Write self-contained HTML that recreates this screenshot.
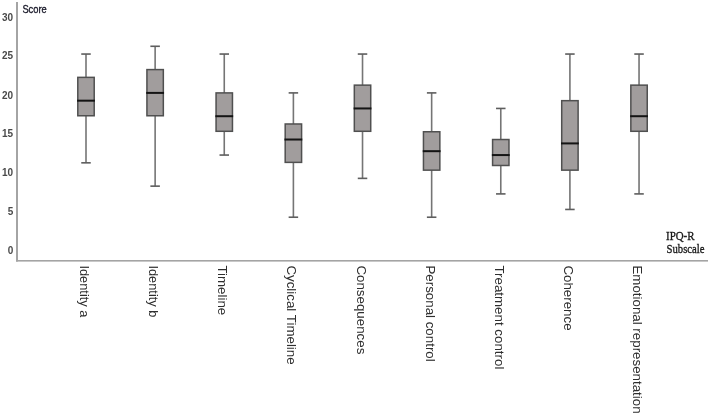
<!DOCTYPE html>
<html><head><meta charset="utf-8"><style>
html,body{margin:0;padding:0;background:#fff;}
body{width:710px;height:415px;overflow:hidden;position:relative;}
svg{position:absolute;left:0;top:0;filter:blur(0.45px);}
.xl{font-family:"Liberation Sans",sans-serif;font-size:13.33px;fill:#2e2e2e;}
.yl{font-family:"Liberation Sans",sans-serif;font-size:10px;font-weight:bold;fill:#4a4a4a;}
.ttl{font-family:"Liberation Sans",sans-serif;font-size:11px;fill:#1a1a2a;stroke:#1a1a2a;stroke-width:0.35px;}
.sub{font-family:"Liberation Serif",serif;font-size:11px;fill:#1a1a1a;stroke:#1a1a1a;stroke-width:0.3px;}
</style></head><body>
<svg width="710" height="415" viewBox="0 0 710 415">
<rect x="16" y="2" width="2" height="259.5" fill="#a4a4a4"/>
<rect x="16" y="260" width="692" height="1.6" fill="#a4a4a4"/>
<rect x="85.20" y="54.05" width="1.6" height="108.78" fill="#757575"/>
<rect x="81.25" y="53.25" width="9.50" height="1.6" fill="#5e5e5e"/>
<rect x="81.25" y="162.03" width="9.50" height="1.6" fill="#5e5e5e"/>
<rect x="77.80" y="77.36" width="16.40" height="38.40" fill="#a19d9d" stroke="#505050" stroke-width="1.5"/>
<rect x="77.10" y="99.67" width="17.80" height="2.0" fill="#141414"/>
<text x="0" y="0" transform="translate(80.00,265.4) rotate(90)" class="xl" textLength="52" lengthAdjust="spacingAndGlyphs">Identity a</text>
<rect x="154.33" y="46.28" width="1.6" height="139.86" fill="#757575"/>
<rect x="150.38" y="45.48" width="9.50" height="1.6" fill="#5e5e5e"/>
<rect x="150.38" y="185.34" width="9.50" height="1.6" fill="#5e5e5e"/>
<rect x="146.93" y="69.59" width="16.40" height="46.17" fill="#a19d9d" stroke="#505050" stroke-width="1.5"/>
<rect x="146.23" y="91.90" width="17.80" height="2.0" fill="#141414"/>
<text x="0" y="0" transform="translate(149.13,265.4) rotate(90)" class="xl" textLength="52" lengthAdjust="spacingAndGlyphs">Identity b</text>
<rect x="223.46" y="54.05" width="1.6" height="101.01" fill="#757575"/>
<rect x="219.51" y="53.25" width="9.50" height="1.6" fill="#5e5e5e"/>
<rect x="219.51" y="154.26" width="9.50" height="1.6" fill="#5e5e5e"/>
<rect x="216.06" y="92.90" width="16.40" height="38.40" fill="#a19d9d" stroke="#505050" stroke-width="1.5"/>
<rect x="215.36" y="115.21" width="17.80" height="2.0" fill="#141414"/>
<text x="0" y="0" transform="translate(218.26,265.4) rotate(90)" class="xl">Timeline</text>
<rect x="292.59" y="92.90" width="1.6" height="124.32" fill="#757575"/>
<rect x="288.64" y="92.10" width="9.50" height="1.6" fill="#5e5e5e"/>
<rect x="288.64" y="216.42" width="9.50" height="1.6" fill="#5e5e5e"/>
<rect x="285.19" y="123.98" width="16.40" height="38.40" fill="#a19d9d" stroke="#505050" stroke-width="1.5"/>
<rect x="284.49" y="138.52" width="17.80" height="2.0" fill="#141414"/>
<text x="0" y="0" transform="translate(287.39,265.4) rotate(90)" class="xl">Cyclical Timeline</text>
<rect x="361.72" y="54.05" width="1.6" height="124.32" fill="#757575"/>
<rect x="357.77" y="53.25" width="9.50" height="1.6" fill="#5e5e5e"/>
<rect x="357.77" y="177.57" width="9.50" height="1.6" fill="#5e5e5e"/>
<rect x="354.32" y="85.13" width="16.40" height="46.17" fill="#a19d9d" stroke="#505050" stroke-width="1.5"/>
<rect x="353.62" y="107.44" width="17.80" height="2.0" fill="#141414"/>
<text x="0" y="0" transform="translate(356.52,265.4) rotate(90)" class="xl">Consequences</text>
<rect x="430.85" y="92.90" width="1.6" height="124.32" fill="#757575"/>
<rect x="426.90" y="92.10" width="9.50" height="1.6" fill="#5e5e5e"/>
<rect x="426.90" y="216.42" width="9.50" height="1.6" fill="#5e5e5e"/>
<rect x="423.45" y="131.75" width="16.40" height="38.40" fill="#a19d9d" stroke="#505050" stroke-width="1.5"/>
<rect x="422.75" y="150.18" width="17.80" height="2.0" fill="#141414"/>
<text x="0" y="0" transform="translate(425.65,265.4) rotate(90)" class="xl">Personal control</text>
<rect x="499.98" y="108.44" width="1.6" height="85.47" fill="#757575"/>
<rect x="496.03" y="107.64" width="9.50" height="1.6" fill="#5e5e5e"/>
<rect x="496.03" y="193.11" width="9.50" height="1.6" fill="#5e5e5e"/>
<rect x="492.58" y="139.52" width="16.40" height="25.97" fill="#a19d9d" stroke="#505050" stroke-width="1.5"/>
<rect x="491.88" y="154.06" width="17.80" height="2.0" fill="#141414"/>
<text x="0" y="0" transform="translate(494.78,265.4) rotate(90)" class="xl">Treatment control</text>
<rect x="569.11" y="54.05" width="1.6" height="155.40" fill="#757575"/>
<rect x="565.16" y="53.25" width="9.50" height="1.6" fill="#5e5e5e"/>
<rect x="565.16" y="208.65" width="9.50" height="1.6" fill="#5e5e5e"/>
<rect x="561.71" y="100.67" width="16.40" height="69.48" fill="#a19d9d" stroke="#505050" stroke-width="1.5"/>
<rect x="561.01" y="142.41" width="17.80" height="2.0" fill="#141414"/>
<text x="0" y="0" transform="translate(563.91,265.4) rotate(90)" class="xl">Coherence</text>
<rect x="638.24" y="54.05" width="1.6" height="139.86" fill="#757575"/>
<rect x="634.29" y="53.25" width="9.50" height="1.6" fill="#5e5e5e"/>
<rect x="634.29" y="193.11" width="9.50" height="1.6" fill="#5e5e5e"/>
<rect x="630.84" y="85.13" width="16.40" height="46.17" fill="#a19d9d" stroke="#505050" stroke-width="1.5"/>
<rect x="630.14" y="115.21" width="17.80" height="2.0" fill="#141414"/>
<text x="0" y="0" transform="translate(633.04,265.4) rotate(90)" class="xl">Emotional representation</text>
<text x="13.2" y="21.30" class="yl" text-anchor="end">30</text>
<text x="13.2" y="59.20" class="yl" text-anchor="end">25</text>
<text x="13.2" y="98.50" class="yl" text-anchor="end">20</text>
<text x="13.2" y="137.30" class="yl" text-anchor="end">15</text>
<text x="13.2" y="176.00" class="yl" text-anchor="end">10</text>
<text x="13.2" y="215.10" class="yl" text-anchor="end">5</text>
<text x="13.2" y="253.60" class="yl" text-anchor="end">0</text>
<text x="22.4" y="12.6" class="ttl" textLength="24.3" lengthAdjust="spacingAndGlyphs">Score</text>
<text x="0" y="0" transform="translate(666,240.3) scale(1,1.18)" class="sub" textLength="28.5" lengthAdjust="spacingAndGlyphs">IPQ-R</text>
<text x="0" y="0" transform="translate(666.5,253.4) scale(1,1.18)" class="sub" textLength="38" lengthAdjust="spacingAndGlyphs">Subscale</text>
</svg>
</body></html>
